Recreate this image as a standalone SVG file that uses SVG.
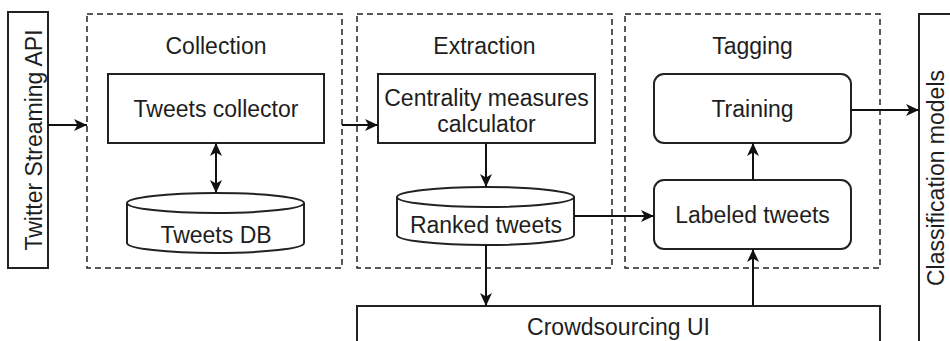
<svg xmlns="http://www.w3.org/2000/svg" width="950" height="341" viewBox="0 0 950 341">
<defs>
<marker id="arr" viewBox="0 0 13 12" refX="13" refY="6" markerWidth="13" markerHeight="12" markerUnits="userSpaceOnUse" orient="auto-start-reverse">
<path d="M13,6 L0,0 L3.5,6 L0,12 Z" fill="#111"/>
</marker>
</defs>
<style>
.box{fill:#fff;stroke:#222;stroke-width:2}
.grp{fill:none;stroke:#222;stroke-width:1.5;stroke-dasharray:6 4}
.t{font-family:"Liberation Sans",Arial,sans-serif;font-size:23px;fill:#1e1e1e;text-anchor:middle}
.c{fill:none;stroke:#111;stroke-width:2}
</style>
<rect width="950" height="341" fill="#fff"/>
<g id="collection">
<rect class="grp" x="87" y="14" width="255" height="254"/>
<text class="t" x="216" y="54">Collection</text>
</g>
<g id="extraction">
<rect class="grp" x="357" y="14" width="255" height="254"/>
<text class="t" x="484.5" y="54">Extraction</text>
</g>
<g id="tagging">
<rect class="grp" x="625" y="14" width="255" height="254"/>
<text class="t" x="752.5" y="54">Tagging</text>
</g>
<g id="twitter-api">
<rect class="box" x="8" y="12" width="40" height="256"/>
<text class="t" transform="translate(41.5,140) rotate(-90)">Twitter Streaming API</text>
</g>
<g id="tweets-collector">
<rect class="box" x="108" y="74" width="216" height="69"/>
<text class="t" x="216" y="117">Tweets collector</text>
</g>
<g id="tweets-db">
<path class="box" d="M127,203 L127,243 A88.5,10 0 0 0 304,243 L304,203"/>
<ellipse class="box" cx="215.5" cy="203" rx="88.5" ry="10"/>
<text class="t" x="216" y="243">Tweets DB</text>
</g>
<g id="centrality">
<rect class="box" x="378" y="74" width="217" height="69"/>
<text class="t" x="486.5" y="106">Centrality measures</text>
<text class="t" x="486.5" y="132">calculator</text>
</g>
<g id="ranked-tweets">
<path class="box" d="M397,197 L397,235 A88.5,10 0 0 0 574,235 L574,197"/>
<ellipse class="box" cx="485.5" cy="197" rx="88.5" ry="10"/>
<text class="t" x="486" y="233">Ranked tweets</text>
</g>
<g id="training">
<rect class="box" x="654" y="74" width="197" height="69" rx="10"/>
<text class="t" x="752.5" y="117">Training</text>
</g>
<g id="labeled-tweets">
<rect class="box" x="654" y="180" width="197" height="69" rx="10"/>
<text class="t" x="752.5" y="223">Labeled tweets</text>
</g>
<g id="crowdsourcing">
<rect class="box" x="357" y="306" width="523" height="60"/>
<text class="t" x="618.5" y="335">Crowdsourcing UI</text>
</g>
<g id="classification-models">
<rect class="box" x="919" y="14" width="60" height="360"/>
<text class="t" transform="translate(944,178) rotate(-90)">Classification models</text>
</g>
<g id="connectors">
<path class="c" d="M48,125 L87,125" marker-end="url(#arr)"/>
<path class="c" d="M216,143 L216,193" marker-start="url(#arr)" marker-end="url(#arr)"/>
<path class="c" d="M342,125 L378,125" marker-end="url(#arr)"/>
<path class="c" d="M486,143 L486,187" marker-end="url(#arr)"/>
<path class="c" d="M574,216 L654,216" marker-end="url(#arr)"/>
<path class="c" d="M486,245 L486,306" marker-end="url(#arr)"/>
<path class="c" d="M753,306 L753,249" marker-end="url(#arr)"/>
<path class="c" d="M753,180 L753,143" marker-end="url(#arr)"/>
<path class="c" d="M851,110 L919,110" marker-end="url(#arr)"/>
</g>
</svg>
